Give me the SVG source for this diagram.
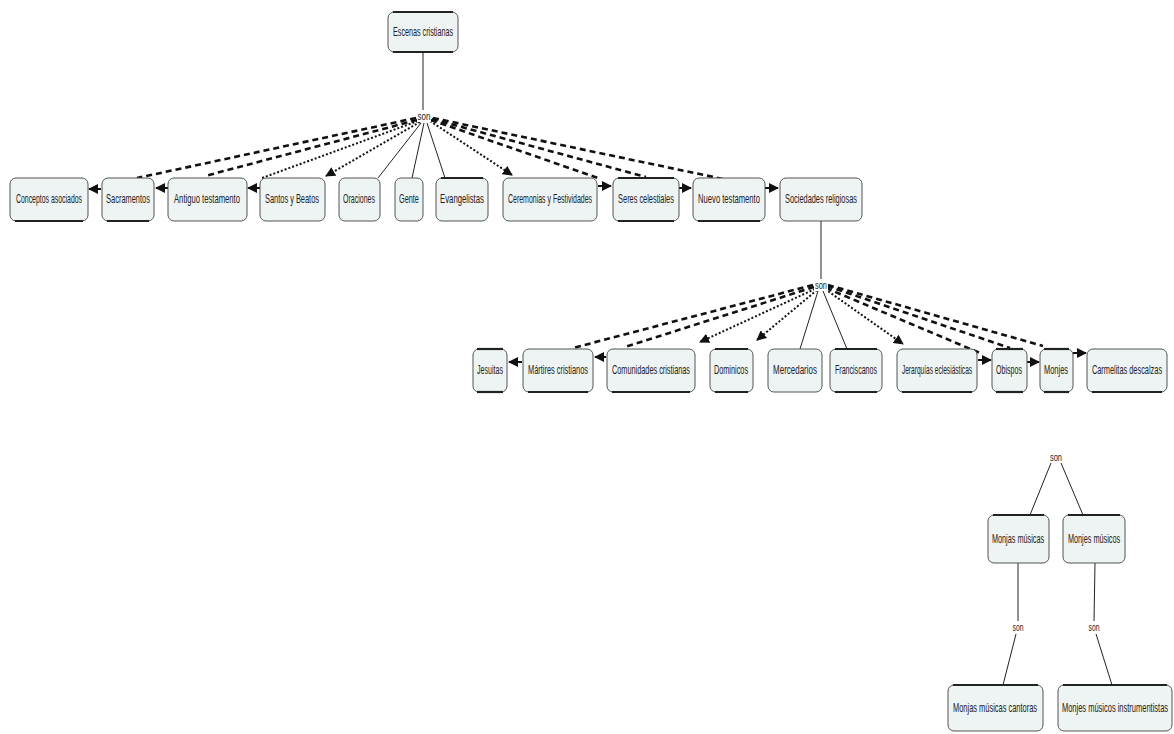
<svg xmlns="http://www.w3.org/2000/svg" width="1174" height="734" viewBox="0 0 1174 734">
<style>
.box{fill:#eef3f3;stroke:#555;stroke-width:1}
.edge{stroke:#222;stroke-width:2.2}
.t{font-family:"Liberation Sans",Arial,sans-serif;font-size:12px;fill:#222;text-anchor:middle}
.son{font-family:"Liberation Sans",Arial,sans-serif;font-size:11px;fill:#222;text-anchor:middle}
.solid{stroke:#222;stroke-width:1;fill:none}
.dash{stroke:#111;stroke-width:2.6;stroke-dasharray:6 4;fill:none}
.dot{stroke:#111;stroke-width:2;stroke-dasharray:2 2;fill:none}
.arr{stroke:#111;stroke-width:2;fill:none}
</style>
<defs>
<marker id="ah" viewBox="0 0 10 10" refX="9" refY="5" markerWidth="5" markerHeight="5" orient="auto" markerUnits="strokeWidth">
<path d="M0,0 L10,5 L0,10 z" fill="#111"/>
</marker>
</defs>
<rect width="1174" height="734" fill="#fff"/>
<g id="connectors">
<line class="solid" x1="423" y1="52" x2="423" y2="110"/>
<line class="solid" x1="821" y1="221" x2="821" y2="279"/>
<line class="solid" x1="1051" y1="463" x2="1030" y2="515"/>
<line class="solid" x1="1061" y1="463" x2="1083" y2="515"/>
<line class="solid" x1="1018" y1="563" x2="1018" y2="621"/>
<line class="solid" x1="1095" y1="563" x2="1094" y2="621"/>
<line class="solid" x1="1016" y1="634" x2="1003" y2="685"/>
<line class="solid" x1="1096" y1="634" x2="1112" y2="685"/>
<line class="dash" x1="416" y1="118" x2="137" y2="178"/>
<line class="dash" x1="417" y1="120" x2="205" y2="176"/>
<line class="dot" x1="418" y1="121" x2="262" y2="178"/>
<line class="dot" x1="420" y1="122" x2="326" y2="176" marker-end="url(#ah)"/>
<line class="solid" x1="421" y1="123" x2="378" y2="178"/>
<line class="solid" x1="424" y1="123" x2="412" y2="178"/>
<line class="solid" x1="427" y1="123" x2="445" y2="178"/>
<line class="dot" x1="430" y1="121" x2="512" y2="175" marker-end="url(#ah)"/>
<line class="dash" x1="431" y1="120" x2="598" y2="178"/>
<line class="dash" x1="432" y1="119" x2="646" y2="177"/>
<line class="dash" x1="433" y1="118" x2="723" y2="179"/>
<line class="arr" x1="101" y1="189" x2="89" y2="189" marker-end="url(#ah)"/>
<line class="arr" x1="168" y1="188" x2="156" y2="188" marker-end="url(#ah)"/>
<line class="arr" x1="260" y1="188" x2="248" y2="188" marker-end="url(#ah)"/>
<line class="arr" x1="598" y1="186" x2="611" y2="186" marker-end="url(#ah)"/>
<line class="arr" x1="679" y1="188" x2="691" y2="188" marker-end="url(#ah)"/>
<line class="arr" x1="765" y1="188" x2="778" y2="188" marker-end="url(#ah)"/>
<line class="dash" x1="813" y1="285" x2="573" y2="348"/>
<line class="dash" x1="814" y1="287" x2="625" y2="347"/>
<line class="dot" x1="815" y1="289" x2="700" y2="342" marker-end="url(#ah)"/>
<line class="dot" x1="817" y1="290" x2="757" y2="340" marker-end="url(#ah)"/>
<line class="solid" x1="818" y1="291" x2="800" y2="349"/>
<line class="solid" x1="823" y1="291" x2="847" y2="349"/>
<line class="dot" x1="825" y1="289" x2="903" y2="344" marker-end="url(#ah)"/>
<line class="dash" x1="826" y1="288" x2="980" y2="353"/>
<line class="dash" x1="827" y1="286" x2="1010" y2="348"/>
<line class="dash" x1="828" y1="285" x2="1043" y2="346"/>
<line class="arr" x1="522" y1="362" x2="509" y2="362" marker-end="url(#ah)"/>
<line class="arr" x1="606" y1="357" x2="595" y2="357" marker-end="url(#ah)"/>
<line class="arr" x1="978" y1="360" x2="991" y2="360" marker-end="url(#ah)"/>
<line class="arr" x1="1027" y1="362" x2="1039" y2="362" marker-end="url(#ah)"/>
<line class="arr" x1="1073" y1="353" x2="1086" y2="353" marker-end="url(#ah)"/>
<rect x="417" y="111" width="14" height="11" fill="#fff"/>
<text class="son" x="424" y="120" textLength="13" lengthAdjust="spacingAndGlyphs">son</text>
<rect x="814" y="280" width="14" height="11" fill="#fff"/>
<text class="son" x="821" y="289" textLength="12" lengthAdjust="spacingAndGlyphs">son</text>
<text class="son" x="1056" y="461" textLength="12" lengthAdjust="spacingAndGlyphs">son</text>
<rect x="1011" y="622" width="14" height="11" fill="#fff"/>
<text class="son" x="1018" y="631" textLength="11" lengthAdjust="spacingAndGlyphs">son</text>
<rect x="1087" y="622" width="14" height="11" fill="#fff"/>
<text class="son" x="1094" y="631" textLength="11" lengthAdjust="spacingAndGlyphs">son</text>
</g>
<g id="n-escenas"><rect class="box" x="388" y="12" width="70" height="40" rx="6"/><line class="edge" x1="393" y1="12" x2="453" y2="12"/><line class="edge" x1="393" y1="52" x2="453" y2="52"/><text class="t" transform="translate(423,36) scale(0.6,1)" textLength="100" lengthAdjust="spacingAndGlyphs">Escenas cristianas</text></g>
<g id="n-conceptos"><rect class="box" x="10" y="178" width="78" height="43" rx="6"/><line class="edge" x1="15" y1="221" x2="83" y2="221"/><text class="t" transform="translate(49,203) scale(0.6,1)" textLength="110" lengthAdjust="spacingAndGlyphs">Conceptos asociados</text></g>
<g id="n-sacramentos"><rect class="box" x="102" y="178" width="52" height="43" rx="6"/><line class="edge" x1="107" y1="221" x2="149" y2="221"/><text class="t" transform="translate(128,203) scale(0.6,1)" textLength="73" lengthAdjust="spacingAndGlyphs">Sacramentos</text></g>
<g id="n-antiguo"><rect class="box" x="168" y="178" width="79" height="43" rx="6"/><text class="t" transform="translate(207,203) scale(0.6,1)" textLength="110" lengthAdjust="spacingAndGlyphs">Antiguo testamento</text></g>
<g id="n-santos"><rect class="box" x="260" y="178" width="65" height="43" rx="6"/><text class="t" transform="translate(292,203) scale(0.6,1)" textLength="90" lengthAdjust="spacingAndGlyphs">Santos y Beatos</text></g>
<g id="n-oraciones"><rect class="box" x="339" y="178" width="41" height="43" rx="6"/><text class="t" transform="translate(359,203) scale(0.6,1)" textLength="53" lengthAdjust="spacingAndGlyphs">Oraciones</text></g>
<g id="n-gente"><rect class="box" x="395" y="178" width="28" height="43" rx="6"/><text class="t" transform="translate(409,203) scale(0.6,1)" textLength="33" lengthAdjust="spacingAndGlyphs">Gente</text></g>
<g id="n-evangelistas"><rect class="box" x="436" y="178" width="52" height="43" rx="6"/><line class="edge" x1="441" y1="178" x2="483" y2="178"/><text class="t" transform="translate(462,203) scale(0.6,1)" textLength="73" lengthAdjust="spacingAndGlyphs">Evangelistas</text></g>
<g id="n-ceremonias"><rect class="box" x="503" y="178" width="94" height="43" rx="6"/><text class="t" transform="translate(550,203) scale(0.6,1)" textLength="140" lengthAdjust="spacingAndGlyphs">Ceremonias y Festividades</text></g>
<g id="n-seres"><rect class="box" x="613" y="178" width="66" height="43" rx="6"/><line class="edge" x1="618" y1="178" x2="674" y2="178"/><line class="edge" x1="618" y1="221" x2="674" y2="221"/><text class="t" transform="translate(646,203) scale(0.6,1)" textLength="93" lengthAdjust="spacingAndGlyphs">Seres celestiales</text></g>
<g id="n-nuevo"><rect class="box" x="693" y="178" width="72" height="43" rx="6"/><line class="edge" x1="698" y1="221" x2="760" y2="221"/><text class="t" transform="translate(729,203) scale(0.6,1)" textLength="103" lengthAdjust="spacingAndGlyphs">Nuevo testamento</text></g>
<g id="n-sociedades"><rect class="box" x="780" y="178" width="82" height="43" rx="6"/><text class="t" transform="translate(821,203) scale(0.6,1)" textLength="120" lengthAdjust="spacingAndGlyphs">Sociedades religiosas</text></g>
<g id="n-jesuitas"><rect class="box" x="473" y="349" width="34" height="43" rx="6"/><line class="edge" x1="477" y1="349" x2="503" y2="349"/><line class="edge" x1="477" y1="392" x2="503" y2="392"/><text class="t" transform="translate(490,374) scale(0.6,1)" textLength="43" lengthAdjust="spacingAndGlyphs">Jesuitas</text></g>
<g id="n-martires"><rect class="box" x="523" y="349" width="70" height="43" rx="6"/><line class="edge" x1="528" y1="392" x2="588" y2="392"/><text class="t" transform="translate(558,374) scale(0.6,1)" textLength="100" lengthAdjust="spacingAndGlyphs">Mártires cristianos</text></g>
<g id="n-comunidades"><rect class="box" x="607" y="349" width="88" height="43" rx="6"/><line class="edge" x1="612" y1="392" x2="690" y2="392"/><text class="t" transform="translate(651,374) scale(0.6,1)" textLength="130" lengthAdjust="spacingAndGlyphs">Comunidades cristianas</text></g>
<g id="n-dominicos"><rect class="box" x="710" y="349" width="43" height="43" rx="6"/><line class="edge" x1="715" y1="349" x2="748" y2="349"/><line class="edge" x1="715" y1="392" x2="748" y2="392"/><text class="t" transform="translate(731,374) scale(0.6,1)" textLength="57" lengthAdjust="spacingAndGlyphs">Dominicos</text></g>
<g id="n-mercedarios"><rect class="box" x="768" y="349" width="54" height="43" rx="6"/><text class="t" transform="translate(795,374) scale(0.6,1)" textLength="73" lengthAdjust="spacingAndGlyphs">Mercedarios</text></g>
<g id="n-franciscanos"><rect class="box" x="830" y="349" width="52" height="43" rx="6"/><line class="edge" x1="835" y1="349" x2="877" y2="349"/><line class="edge" x1="835" y1="392" x2="877" y2="392"/><text class="t" transform="translate(856,374) scale(0.6,1)" textLength="70" lengthAdjust="spacingAndGlyphs">Franciscanos</text></g>
<g id="n-jerarquias"><rect class="box" x="897" y="349" width="80" height="43" rx="6"/><line class="edge" x1="902" y1="392" x2="972" y2="392"/><text class="t" transform="translate(937,374) scale(0.6,1)" textLength="117" lengthAdjust="spacingAndGlyphs">Jerarquías eclesiásticas</text></g>
<g id="n-obispos"><rect class="box" x="992" y="349" width="35" height="43" rx="6"/><line class="edge" x1="996" y1="349" x2="1023" y2="349"/><line class="edge" x1="996" y1="392" x2="1023" y2="392"/><text class="t" transform="translate(1009,374) scale(0.6,1)" textLength="43" lengthAdjust="spacingAndGlyphs">Obispos</text></g>
<g id="n-monjes"><rect class="box" x="1040" y="349" width="33" height="43" rx="6"/><line class="edge" x1="1044" y1="349" x2="1069" y2="349"/><line class="edge" x1="1044" y1="392" x2="1069" y2="392"/><text class="t" transform="translate(1056,374) scale(0.6,1)" textLength="40" lengthAdjust="spacingAndGlyphs">Monjes</text></g>
<g id="n-carmelitas"><rect class="box" x="1087" y="349" width="80" height="43" rx="6"/><line class="edge" x1="1092" y1="392" x2="1162" y2="392"/><text class="t" transform="translate(1127,374) scale(0.6,1)" textLength="117" lengthAdjust="spacingAndGlyphs">Carmelitas descalzas</text></g>
<g id="n-monjas-musicas"><rect class="box" x="988" y="515" width="61" height="48" rx="6"/><line class="edge" x1="993" y1="515" x2="1044" y2="515"/><text class="t" transform="translate(1018,543) scale(0.6,1)" textLength="87" lengthAdjust="spacingAndGlyphs">Monjas músicas</text></g>
<g id="n-monjes-musicos"><rect class="box" x="1063" y="515" width="62" height="48" rx="6"/><line class="edge" x1="1068" y1="515" x2="1120" y2="515"/><text class="t" transform="translate(1094,543) scale(0.6,1)" textLength="87" lengthAdjust="spacingAndGlyphs">Monjes músicos</text></g>
<g id="n-cantoras"><rect class="box" x="948" y="685" width="95" height="46" rx="6"/><line class="edge" x1="953" y1="685" x2="1038" y2="685"/><text class="t" transform="translate(995,712) scale(0.6,1)" textLength="140" lengthAdjust="spacingAndGlyphs">Monjas músicas cantoras</text></g>
<g id="n-instrumentistas"><rect class="box" x="1058" y="685" width="114" height="46" rx="6"/><line class="edge" x1="1063" y1="685" x2="1167" y2="685"/><text class="t" transform="translate(1115,712) scale(0.6,1)" textLength="177" lengthAdjust="spacingAndGlyphs">Monjes músicos instrumentistas</text></g>
</svg>
